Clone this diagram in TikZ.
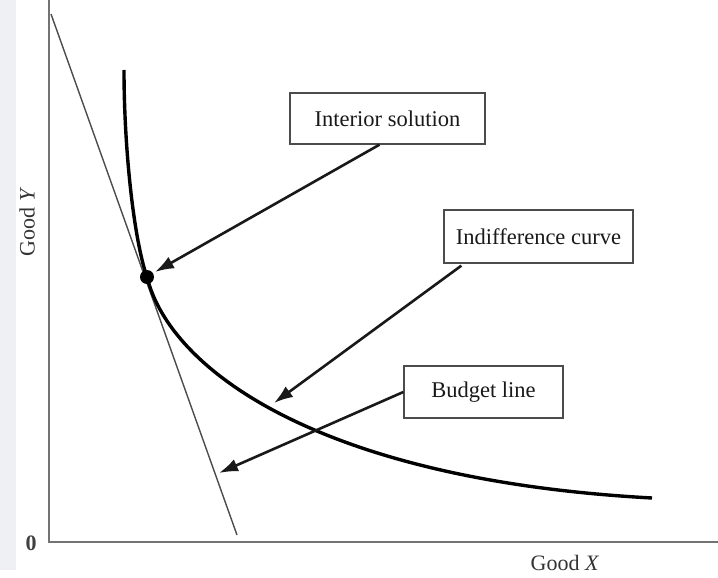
\documentclass[tikz,border=0pt]{standalone}
\usepackage{fontspec}
\setmainfont{Liberation Serif}
\usetikzlibrary{arrows.meta}
\definecolor{strip}{RGB}{238,240,243}
\begin{document}
\begin{tikzpicture}[x=1pt,y=-1pt,
  lbl/.style={draw=black!70,line width=1.3pt,fill=white,inner sep=0pt,font=\fontsize{22.5}{27}\selectfont,text=black!90},
  callout/.style={line width=2.6pt,draw=black!90,-{Latex[length=19pt,width=13pt]}},
  axis/.style={draw=black!55,line width=2pt}]
\useasboundingbox (0,0) rectangle (718,578);
\fill[white] (0,0) rectangle (718,578);
\fill[strip] (0,0) rectangle (16,570);
% axes
\coordinate (O) at (49,542);
\coordinate (Ytop) at (49,0);
\coordinate (Xend) at (718,542);
\draw[axis] (Ytop) -- (O) -- (Xend);
\node[font=\fontsize{22}{26}\selectfont\bfseries,text=black!75] (zero) at (31,543) {0};
\node[font=\fontsize{22}{26}\selectfont,text=black!80,rotate=90] (gy) at (27,222) {Good \textit{Y}};
\node[font=\fontsize{22}{26}\selectfont,text=black!80] (gx) at (565,563) {Good \textit{X}};
% budget line
\coordinate (B1) at (51,14);
\coordinate (B2) at (237,535);
\draw[black!70,line width=1.4pt] (B1) -- (B2);
% indifference curve
\coordinate (T) at (147,277);
\coordinate (I1) at (124,70);
\coordinate (I2) at (652,498);
\draw[black,line width=3.4pt] (I1) .. controls (124,150) and (134,240) .. (T)
  .. controls (170,370) and (320,480) .. (I2);
\node[circle,fill=black,inner sep=0pt,minimum size=14pt] (dot) at (T) {};
% labels
\node[lbl,minimum width=195pt,minimum height=51pt] (is) at (387.5,118.5) {Interior solution};
\node[lbl,minimum width=189pt,minimum height=53pt] (ic) at (538.5,236.5) {Indifference curve};
\node[lbl,minimum width=159pt,minimum height=52pt] (bl) at (483.5,392) {Budget line};
\coordinate (a1) at (155,272);
\coordinate (a2) at (274,403);
\coordinate (a3) at (219,473);
\draw[callout] (is.south) ++(-8,0) -- (a1);
\draw[callout] (ic.south west) ++(18,2) -- (a2);
\draw[callout] (bl.west) -- (a3);
\end{tikzpicture}
\end{document}
